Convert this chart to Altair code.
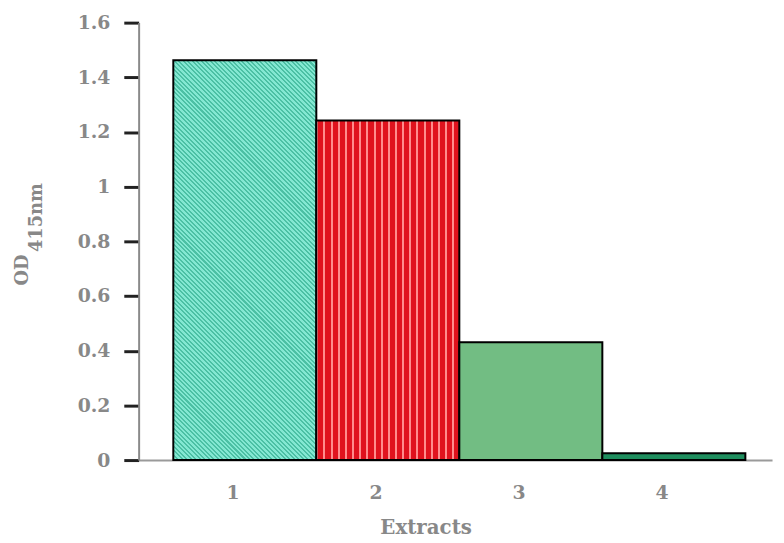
import altair as alt
import pandas as pd

# ---- data ----
extracts = ["1", "2", "3", "4"]
od415 = [1.462, 1.242, 0.431, 0.025]
y_ticks = [0, 0.2, 0.4, 0.6, 0.8, 1.0, 1.2, 1.4, 1.6]

df = pd.DataFrame({"extract": extracts, "od": od415})

# ---- layout ----
W, H = 640, 442
Y_MAX = 1.6
P_OUT = 0.2145
BAND = W / (len(extracts) + 2 * P_OUT)

GRAY = "#888888"
FONT = "DejaVu Serif"


def stripe_stops(base, line, n, frac):
    stops = []
    for i in range(n):
        a = i / n
        b = (i + frac) / n
        c = (i + 1) / n
        stops += [
            alt.GradientStop(offset=a, color=line),
            alt.GradientStop(offset=b, color=line),
            alt.GradientStop(offset=b, color=base),
            alt.GradientStop(offset=c, color=base),
        ]
    return stops


def diag_gradient(value, base, line, pitch):
    w = BAND
    h = value / Y_MAX * H
    al = w / (w + h)
    be = -h / (w + h)
    s = al * al + be * be
    n = max(1, int(round((w + h) / 1.41421 / pitch)))
    return alt.Gradient(
        gradient="linear",
        x1=0, y1=1, x2=al / s, y2=1 + be / s,
        stops=stripe_stops(base, line, n, 0.45),
    )


def vert_gradient(base, line, n, frac):
    return alt.Gradient(
        gradient="linear", x1=0, y1=0, x2=1, y2=0,
        stops=stripe_stops(base, line, n, frac),
    )


fills = [
    diag_gradient(od415[0], "#84e8d2", "#4cc0a4", 3.2),
    vert_gradient("#e0121d", "#ff8c8c", 20, 0.28),
    "#72bd83",
    "#1f8e5e",
]

x_enc = alt.X(
    "extract:N",
    sort=extracts,
    scale=alt.Scale(paddingInner=0, paddingOuter=P_OUT, align=0.565),
    axis=alt.Axis(
        title="Extracts",
        titleFont=FONT, titleFontSize=20, titleFontWeight="bold", titleColor=GRAY,
        titleX=290, titleY=58, titleBaseline="top", titleAlign="center",
        labelFont=FONT, labelFontSize=19, labelFontWeight="bold", labelColor=GRAY,
        labelAngle=0, labelOffset=-12, labelPadding=24,
        ticks=False, domainColor="#9a9a9a", domainWidth=2,
    ),
)
y_enc = alt.Y(
    "od:Q",
    scale=alt.Scale(domain=[0, Y_MAX], nice=False),
    axis=alt.Axis(
        title=None, values=y_ticks, format="~g",
        labelFont=FONT, labelFontSize=19, labelFontWeight="bold", labelColor=GRAY,
        labelPadding=14, tickSize=15, tickWidth=3, tickColor="#222222",
        domainColor="#8a8a8a", domainWidth=2, grid=False,
    ),
)

base = alt.Chart(df)
layers = []
for i, (cat, fill) in enumerate(zip(extracts, fills)):
    layer = base.transform_filter(alt.datum.extract == cat).mark_bar(
        fill=fill, stroke="black", strokeWidth=2
    ).encode(x=x_enc, y=y_enc)
    layers.append(layer)

title_od = alt.Chart(pd.DataFrame({"t": ["OD"]})).mark_text(
    angle=270, align="center", baseline="middle",
    font=FONT, fontSize=18, fontWeight="bold", color=GRAY,
).encode(text="t:N", x=alt.value(-117), y=alt.value(250))

title_sub = alt.Chart(pd.DataFrame({"t": ["415nm"]})).mark_text(
    angle=270, align="center", baseline="middle",
    font=FONT, fontSize=18, fontWeight="bold", color=GRAY,
).encode(text="t:N", x=alt.value(-103), y=alt.value(197))

chart = alt.layer(*layers, title_od, title_sub).properties(
    width=W, height=H,
    padding={"left": 132, "top": 12, "right": 4, "bottom": 80},
    autosize=alt.AutoSizeParams(type="none"),
).configure_view(stroke=None)

chart.save("out.html", embed_options={"renderer": "svg", "actions": False})
